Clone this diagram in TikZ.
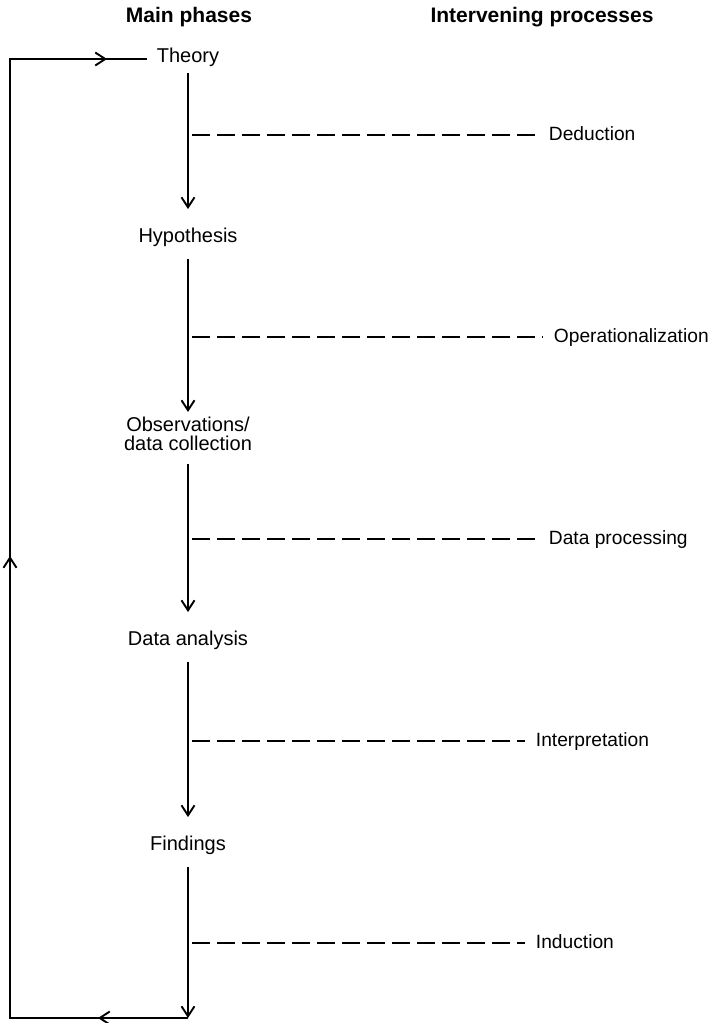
\documentclass[tikz,border=0pt]{standalone}
\usepackage{fontspec}
\setmainfont{Liberation Sans}
\usetikzlibrary{arrows.meta, decorations.markings}

\begin{document}
\begin{tikzpicture}[
   x=0.5pt, y=-0.5pt,
   line width=0.95pt,
   >={Straight Barb[length=5pt, width=6.5pt]},
   head/.style = {anchor=base, inner sep=0pt, font=\fontsize{10.5}{12}\bfseries\selectfont},
   phase/.style = {inner sep=0pt, text height=7.5pt, text depth=2pt, font=\fontsize{10}{9.5}\selectfont},
   process/.style = {anchor=west, inner sep=0pt, text height=7.5pt, text depth=2pt, font=\fontsize{9.6}{12}\selectfont},
   flow/.style = {->, shorten <=6pt, shorten >=8.5pt},
   link/.style = {line width=0.7pt, dash pattern=on 9pt off 3.5pt, shorten >=5pt},
   feedback/.style = {line join=miter, postaction={decorate},
      decoration={markings,
         mark=at position 45pt with {\arrow{>}},
         mark=at position 320pt with {\arrow{>}},
         mark=at position 617pt with {\arrow{>}}}}]
   \useasboundingbox (0,0) rectangle (719,1023);

   % column heads
   \node[head] (mainhead) at (189,22) {Main phases};
   \node[head] (prochead) at (542,22) {Intervening processes};

   % main phases
   \node[phase, anchor=base] (theory) at (188,62) {Theory};
   \node[phase, anchor=base] (hyp) at (188,242) {Hypothesis};
   \node[inner sep=0pt, anchor=north, align=center, font=\fontsize{10}{9.5}\selectfont] (obs) at (188,416) {Observations/\\data collection};
   \node[phase, anchor=base] (anal) at (188,645) {Data analysis};
   \node[phase, anchor=base] (find) at (188,850) {Findings};

   % intervening processes
   \node[process] (ded) at (548,135) {Deduction};
   \node[process] (oper) at (553,337) {Operationalization};
   \node[process] (proc) at (548,539) {Data processing};
   \node[process] (interp) at (535,741) {Interpretation};
   \node[process] (ind) at (535,943) {Induction};

   \coordinate (d1) at (192,135);
   \coordinate (d2) at (192,337);
   \coordinate (d3) at (192,539);
   \coordinate (d4) at (192,741);
   \coordinate (d5) at (192,943);

   \coordinate (loopb) at (188,1018);
   \coordinate (loopbl) at (10,1018);
   \coordinate (looptl) at (10,59);

   \draw[flow, shorten <=3pt] (theory) -- (hyp);
   \draw[flow, shorten >=2pt] (hyp) -- (obs);
   \draw[flow] (obs) -- (anal);
   \draw[flow] (anal) -- (find);
   \draw[flow, shorten >=0pt] (find) -- (loopb);

   \draw[link] (d1) -- (ded);
   \draw[link] (d2) -- (oper);
   \draw[link] (d3) -- (proc);
   \draw[link] (d4) -- (interp);
   \draw[link] (d5) -- (ind);

   % back to theory
   \draw[feedback] (loopb) -- (loopbl) -- (looptl) -- ([xshift=-4.5pt]looptl -| theory.west);
\end{tikzpicture}
\end{document}
